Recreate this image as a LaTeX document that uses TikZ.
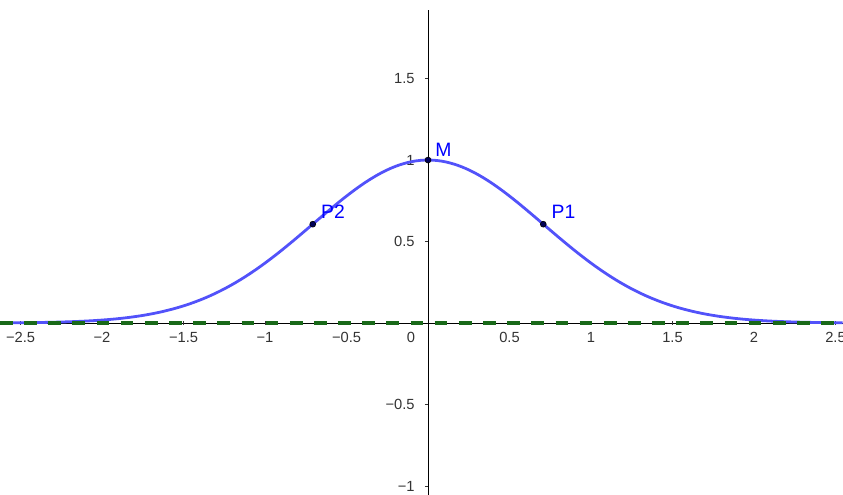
\documentclass[tikz,border=0pt]{standalone}
\usepackage{fontspec}
\setmainfont{Liberation Sans}
\usetikzlibrary{positioning}
\definecolor{curveblue}{RGB}{82,82,250}
\definecolor{dashgreen}{RGB}{25,105,25}
\tikzset{
    axis/.style={
        line width=0.6pt,
        black
    },
    axistick/.style={
        line width=0.5pt,
        black!80
    },
    ticklabel/.style={
        font=\fontsize{9.5}{11}\selectfont,
        text=black!80,
        inner sep=0pt
    },
    curve/.style={
        curveblue,
        line width=1.8pt
    },
    zeroline/.style={
        dashgreen,
        line width=2.1pt,
        dash pattern=on 8.2pt off 7.4pt
    },
    pt/.style={
        circle,
        fill=blue!35!black,
        draw=black,
        inner sep=0pt,
        minimum size=3.8pt
    },
    ptlabel/.style={
        text=blue,
        font=\fontsize{12.5}{14}\selectfont,
        inner sep=0pt,
        anchor=south west
    }
}
\begin{document}
\begin{tikzpicture}[x=3.7cm, y=3.7cm]
    \useasboundingbox (-2.626,-1.055) rectangle (2.546,1.982);
    % axes
    \coordinate (xl) at (-2.626,0);
    \coordinate (xr) at (2.546,0);
    \coordinate (yb) at (0,-1.055);
    \coordinate (yt) at (0,1.92);
    \draw[axis] (xl) -- (xr);
    \draw[axis] (yb) -- (yt);
    % ticks and labels
    \foreach \x/\t in {-2.5/−2.5, -2/−2, -1.5/−1.5, -1/−1, -0.5/−0.5, 0.5/0.5, 1/1, 1.5/1.5, 2/2, 2.5/2.5} {
        \draw[axistick] (\x,-0.012) -- (\x,0.012);
        \node[ticklabel] at (\x,-0.088) {\t};
    }
    \node[ticklabel] (zero) at (-0.104,-0.088) {0};
    \foreach \y/\t in {-1/−1, -0.5/−0.5, 0.5/0.5, 1/1, 1.5/1.5} {
        \draw[axistick] (-0.02,\y) -- (0,\y);
        \node[ticklabel, anchor=east] at (-0.08,\y) {\t};
    }
    % the bell curve
    \draw[curve] plot[domain=-2.56:2.546, samples=200, smooth] (\x,{exp(-\x*\x)});
    \draw[zeroline] (xl) -- (xr);
    % points
    \node[pt] (M) at (0,1) {};
    \node[pt] (P1) at (0.7071,0.6065) {};
    \node[pt] (P2) at (-0.7071,0.6065) {};
    \node[ptlabel] (Mlab) at ([shift={(0.043,0.018)}]M.center) {M};
    \node[ptlabel] (P1lab) at ([shift={(0.05,0.03)}]P1.center) {P1};
    \node[ptlabel] (P2lab) at ([shift={(0.05,0.03)}]P2.center) {P2};
\end{tikzpicture}
\end{document}
